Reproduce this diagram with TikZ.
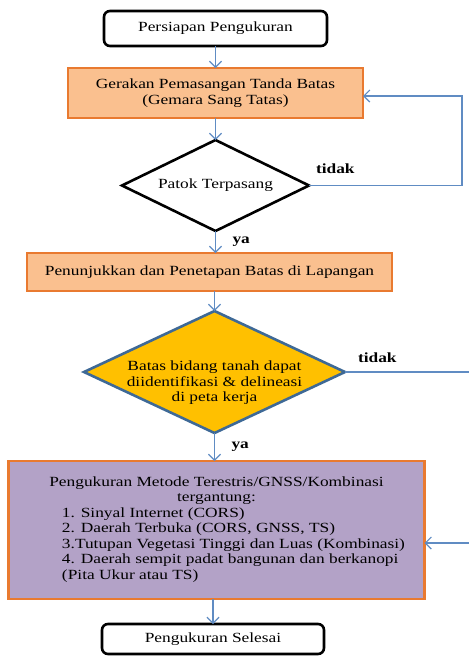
\documentclass[tikz,border=0pt]{standalone}
\usepackage{fontspec}
\setmainfont{Liberation Serif}[FakeStretch=1.24]
\usepackage{xcolor}
\usepackage{tikz}
\usetikzlibrary{arrows.meta, positioning, shapes.geometric}

\definecolor{oranyeisi}{RGB}{250,192,143}
\definecolor{oranyegaris}{RGB}{233,122,48}
\definecolor{ungu}{RGB}{179,162,199}
\definecolor{emas}{RGB}{255,192,0}
\definecolor{birutua}{RGB}{62,105,150}
\definecolor{panah}{RGB}{96,140,195}

\begin{document}
\begin{tikzpicture}[
    x=1pt, y=1pt,
    node distance=22pt,
    every node/.style={align=center, font=\fontsize{14}{15.5}\selectfont, outer sep=0pt},
    ujung/.style={rectangle, draw, rounded corners=6pt, line width=2.6pt, fill=white, minimum width=223pt, minimum height=35pt},
    proses/.style={rectangle, draw=oranyegaris, line width=2.8pt, fill=oranyeisi},
    keputusan/.style={diamond, draw, line width=2.6pt, inner sep=-6pt},
    jawab/.style={font=\fontsize{14}{15.5}\selectfont\bfseries, inner sep=0pt},
    arrow/.style={-{Straight Barb[length=6pt, width=12pt]}, draw=panah, line width=1.2pt}
]
\useasboundingbox (0,0) rectangle (469,-657);

% Nodes
\node[ujung] (persiapan) at (215.5,-28.5) {Persiapan Pengukuran};
\node[proses, minimum width=295pt, minimum height=50pt, below=of persiapan] (gemara) {Gerakan Pemasangan Tanda Batas\\(Gemara Sang Tatas)};
\node[keputusan, fill=white, aspect=2.05, minimum width=187pt, minimum height=91pt, below=of gemara] (patok) {Patok Terpasang};
\node[proses, minimum width=365pt, minimum height=38pt, below=of patok, xshift=-6pt] (penunjukkan) {Penunjukkan dan Penetapan Batas di Lapangan};
\node[keputusan, draw=birutua, fill=emas, aspect=2.14, minimum width=261pt, minimum height=122pt, below=20pt of penunjukkan, xshift=5pt] (batas) {\raisebox{-11pt}[\height][\depth]{\begin{tabular}{@{}c@{}}Batas bidang tanah dapat\\diidentifikasi \& delineasi\\di peta kerja\end{tabular}}};
\node[proses, fill=ungu, minimum width=416pt, minimum height=138pt, below=28pt of batas, xshift=2pt] (metode) {Pengukuran Metode Terestris/GNSS/Kombinasi\\tergantung:\\\hspace*{34pt}\begin{tabular}[t]{@{}l@{}}1. Sinyal Internet (CORS)\\2. Daerah Terbuka (CORS, GNSS, TS)\\3.Tutupan Vegetasi Tinggi dan Luas (Kombinasi)\\4. Daerah sempit padat bangunan dan berkanopi\\(Pita Ukur atau TS)\end{tabular}};
\node[ujung, minimum width=222pt, minimum height=30pt, below=25pt of metode, xshift=-3.5pt] (selesai) {Pengukuran Selesai};

% Arrows
\draw[arrow] (persiapan) -- (gemara);
\draw[arrow] (gemara) -- (patok);
\draw[arrow] (patok.south) -- (patok.south |- penunjukkan.north) node[jawab, midway, right=17pt] (ya1) {ya};
\draw[arrow] (batas.north |- penunjukkan.south) -- (batas.north);
\draw[arrow] (batas.south) -- (batas.south |- metode.north) node[jawab, midway, right=17pt] (ya2) {ya};
\draw[arrow] (selesai.north |- metode.south) -- (selesai.north);

% Loops back for 'tidak'
\draw[arrow] (patok.east) -- ++(153pt,0) |- ([yshift=-3pt]gemara.east);
\draw[arrow] (batas.east) -- ++(126pt,0) |- ([yshift=-13pt]metode.east);
\node[jawab, above right=12pt and 7pt of patok.east] (tidak1) {tidak};
\node[jawab, above right=9pt and 13pt of batas.east] (tidak2) {tidak};

\end{tikzpicture}
\end{document}
